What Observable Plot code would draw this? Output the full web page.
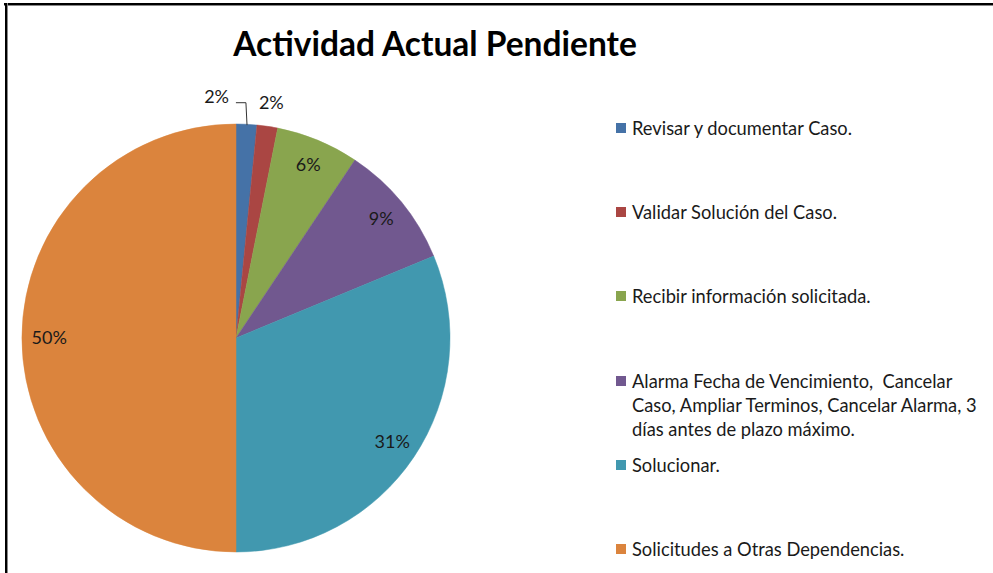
<!DOCTYPE html>
<html>
<head>
<meta charset="utf-8">
<script src="https://cdn.jsdelivr.net/npm/d3@7"></script>
<script src="https://cdn.jsdelivr.net/npm/@observablehq/plot@0.6"></script>
<style>
  html, body { margin: 0; padding: 0; background: #fff; }
  #frame { position: relative; width: 993px; height: 573px; overflow: hidden; background: #fff; font-family: Lato, "Open Sans", sans-serif; }
  #frame .border-top { position: absolute; left: 4px; top: 3px; width: 989px; height: 2px; background: #000; border-bottom: 1px solid #888; }
  #frame .border-left { position: absolute; left: 5px; top: 3px; width: 2px; height: 570px; background: #000; border-right: 1px solid #888; }
  #title { position: absolute; left: 0; width: 870px; top: 23px; text-align: center; font-size: 33.5px; font-weight: bold; color: #000; }
  #chart { position: absolute; left: 0; top: 0; }
  .legend-item { position: absolute; left: 616px; font-size: 18.3px; line-height: 24px; color: #1a1a1a; white-space: pre; }
  .legend-item .sw { position: absolute; left: 0; top: 7px; width: 10px; height: 10px; }
  .legend-item .lbl { position: absolute; left: 16px; top: 0; }
</style>
</head>
<body>
<div id="frame">
  <div id="chart"></div>
  <div class="border-top"></div>
  <div class="border-left"></div>
  <div id="title"></div>
  <div id="legend"></div>
</div>
<script>
// ---- data ----
const title = "Actividad Actual Pendiente";
const categories = [
  "Revisar y documentar Caso.",
  "Validar Solución del Caso.",
  "Recibir información solicitada.",
  "Alarma Fecha de Vencimiento,  Cancelar\nCaso, Ampliar Terminos, Cancelar Alarma, 3\ndías antes de plazo máximo.",
  "Solucionar.",
  "Solicitudes a Otras Dependencias."
];
const counts = [1, 1, 4, 6, 20, 32];
const colors = ["#4572A7", "#AA4643", "#89A54E", "#71588F", "#4198AF", "#DB843D"];

// ---- derived ----
const total = d3.sum(counts);
const arcs = d3.pie().sort(null).value(d => d)(counts);
const slices = arcs.map((a, i) => ({
  name: categories[i],
  color: colors[i],
  pct: counts[i] / total,
  label: Math.round(counts[i] / total * 100) + "%",
  start: a.startAngle,
  end: a.endAngle,
  mid: (a.startAngle + a.endAngle) / 2
}));

// label placement (layout): inside at 0.875 R; small slices outside
function labelPos(s, i) {
  if (i === 0) return {x: Math.sin(s.mid) - 0.142, y: Math.cos(s.mid) + 0.13};
  if (i === 1) return {x: Math.sin(s.mid) * 1.11, y: Math.cos(s.mid) * 1.11};
  return {x: Math.sin(s.mid) * 0.875, y: Math.cos(s.mid) * 0.875};
}
const labels = slices.map((s, i) => ({...s, ...labelPos(s, i)}));

// leader line for first slice
const s0 = slices[0];
const leader = [
  {x: labels[0].x + 0.092, y: labels[0].y - 0.027},
  {x: labels[0].x + 0.137, y: labels[0].y - 0.027},
  {x: Math.sin(s0.mid), y: Math.cos(s0.mid)}
];

function pieMark(index, scales) {
  const cx = scales.x(0), cy = scales.y(0);
  const r = Math.abs(scales.x(1) - scales.x(0));
  const g = d3.create("svg:g").attr("transform", `translate(${cx},${cy})`);
  const arc = d3.arc().innerRadius(0).outerRadius(r);
  g.selectAll("path").data(slices).join("path")
    .attr("d", d => arc({startAngle: d.start, endAngle: d.end}))
    .attr("fill", d => d.color)
    .attr("stroke", d => d.color)
    .attr("stroke-width", 0.5);
  return g.node();
}

const plot = Plot.plot({
  width: 993,
  height: 573,
  margin: 0,
  x: {domain: [-1, 1], range: [22, 450], axis: null},
  y: {domain: [-1, 1], range: [552, 124], axis: null},
  style: {background: "transparent", fontFamily: "Lato, 'Open Sans', sans-serif"},
  marks: [
    pieMark,
    Plot.line(leader, {x: "x", y: "y", stroke: "#333", strokeWidth: 1}),
    Plot.text(labels, {x: "x", y: "y", text: "label", fontSize: 18, fill: "#1a1a1a"})
  ]
});
document.getElementById("chart").appendChild(plot);

document.getElementById("title").textContent = title;

// legend (layout tops in px)
const legendTops = [116, 200, 284, 369, 453, 537];
const legend = document.getElementById("legend");
categories.forEach((c, i) => {
  const item = document.createElement("div");
  item.className = "legend-item";
  item.style.top = legendTops[i] + "px";
  item.innerHTML = `<div class="sw" style="background:${colors[i]}"></div><div class="lbl"></div>`;
  item.querySelector(".lbl").textContent = c;
  legend.appendChild(item);
});
</script>
</body>
</html>
